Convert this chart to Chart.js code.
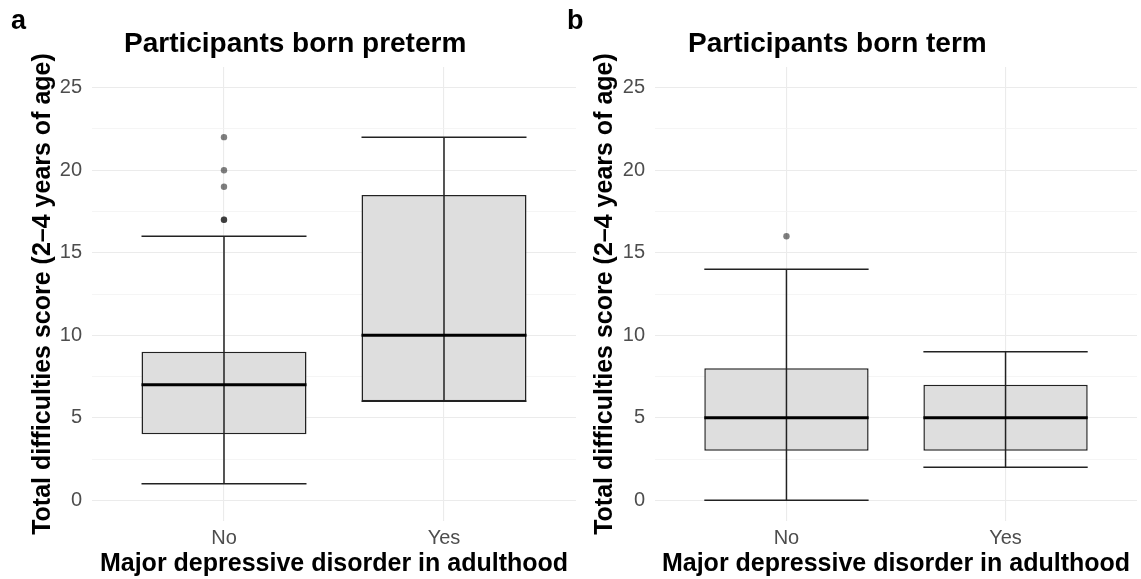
<!DOCTYPE html>
<html>
<head>
<meta charset="utf-8">
<title>SDQ total difficulties by adult MDD</title>
<script src="https://cdn.jsdelivr.net/npm/chart.js@4.4.1/dist/chart.umd.min.js"></script>
<style>
    body { margin: 0; background: #fff; font-family: 'Liberation Sans', Arial, sans-serif; }
    #wrap { position: relative; width: 1141px; height: 579px; overflow: hidden; }
    canvas { position: absolute; top: 0; }
    .tag, .ttl { position: absolute; font-weight: bold; color: #000; white-space: nowrap; }
    .tag { font-size: 27px; line-height: 27px; top: 7px; }
    .ttl { font-size: 28px; line-height: 28px; top: 29px; }
</style>
</head>
<body>
<div id="wrap">
    <canvas id="chart-a" width="580" height="579" style="left:0"></canvas>
    <canvas id="chart-b" width="561" height="579" style="left:580px"></canvas>
    <div class="tag" style="left:11px">a</div>
    <div class="ttl" style="left:124px">Participants born preterm</div>
    <div class="tag" style="left:567px">b</div>
    <div class="ttl" style="left:688px">Participants born term</div>
</div>
<script>
// categories and tick values
const groups = ['No', 'Yes'];
const yTicks = [0, 2.5, 5, 7.5, 10, 12.5, 15, 17.5, 20, 22.5, 25];

// box statistics, one value per group (No, Yes)
const pretermLow = [1, 6];
const pretermQ1 = [4, 6];
const pretermMedian = [7, 10];
const pretermQ3 = [9, 18.5];
const pretermHigh = [16, 22];
const pretermOutliersNo = [17, 17, 19, 20, 22];
const pretermOutliersYes = [];

const termLow = [0, 2];
const termQ1 = [3, 3];
const termMedian = [5, 5];
const termQ3 = [8, 7];
const termHigh = [14, 9];
const termOutliersNo = [16];
const termOutliersYes = [];

const FONT = "'Liberation Sans', Arial, sans-serif";
const yTitle = 'Total difficulties score (2–4 years of age)';
const xTitle = 'Major depressive disorder in adulthood';

// whiskers, caps and median drawn from the box bars
const boxplotLines = {
    id: 'boxplotLines',
    afterDatasetsDraw(chart) {
        const ctx = chart.ctx;
        const y = chart.scales.y;
        const ds = chart.data.datasets[0];
        const meta = chart.getDatasetMeta(0);
        ctx.save();
        meta.data.forEach((bar, i) => {
            const half = bar.width / 2;
            const lo = y.getPixelForValue(ds.stats.low[i]);
            const hi = y.getPixelForValue(ds.stats.high[i]);
            const med = y.getPixelForValue(ds.stats.median[i]);
            ctx.strokeStyle = '#222';
            ctx.lineWidth = 1.5;
            ctx.beginPath();
            ctx.moveTo(bar.x, lo); ctx.lineTo(bar.x, hi);
            ctx.moveTo(bar.x - half, lo); ctx.lineTo(bar.x + half, lo);
            ctx.moveTo(bar.x - half, hi); ctx.lineTo(bar.x + half, hi);
            ctx.stroke();
            ctx.strokeStyle = '#000';
            ctx.lineWidth = 3;
            ctx.beginPath();
            ctx.moveTo(bar.x - half, med); ctx.lineTo(bar.x + half, med);
            ctx.stroke();
        });
        ctx.restore();
    }
};

function makePanel(id, s, yAxisWidth, yTitlePad, rightPad) {
    const boxes = groups.map((g, i) => ({ x: i + 1, y: [s.q1[i], s.q3[i]] }));
    const outliers = [];
    s.outliers.forEach((list, i) => list.forEach(v => outliers.push({ x: i + 1, y: v })));

    return new Chart(document.getElementById(id), {
        type: 'bar',
        data: {
            datasets: [{
                data: boxes,
                stats: { low: s.low, median: s.median, high: s.high },
                backgroundColor: '#dedede',
                borderColor: '#222',
                borderWidth: 1.5,
                borderSkipped: false,
                barPercentage: 0.75,
                categoryPercentage: 1
            }, {
                type: 'scatter',
                data: outliers,
                pointRadius: 3.2,
                pointBorderWidth: 0,
                pointBackgroundColor: 'rgba(0,0,0,0.5)'
            }]
        },
        options: {
            responsive: false,
            animation: false,
            layout: { padding: { top: 67, right: rightPad, bottom: 0, left: 0 } },
            plugins: { legend: { display: false }, tooltip: { enabled: false } },
            scales: {
                x: {
                    type: 'linear',
                    min: 0.4,
                    max: 2.6,
                    offset: false,
                    afterBuildTicks: scale => { scale.ticks = groups.map((g, i) => ({ value: i + 1 })); },
                    afterFit: scale => { scale.height = 58; },
                    border: { display: false },
                    grid: { offset: false, color: '#ebebeb', lineWidth: 1.1, drawTicks: false },
                    ticks: {
                        padding: 5,
                        color: '#4d4d4d',
                        font: { family: FONT, size: 20 },
                        callback: v => groups[v - 1] || ''
                    },
                    title: {
                        display: true,
                        text: xTitle,
                        color: '#000',
                        padding: { top: 0, bottom: 0 },
                        font: { family: FONT, size: 25, weight: 'bold' }
                    }
                },
                y: {
                    min: -1.25,
                    max: 26.25,
                    afterBuildTicks: scale => { scale.ticks = yTicks.map(v => ({ value: v })); },
                    afterFit: scale => { scale.width = yAxisWidth; },
                    border: { display: false },
                    grid: {
                        drawTicks: false,
                        color: c => (c.tick && c.tick.value % 5 === 0) ? '#ebebeb' : '#f2f2f2',
                        lineWidth: c => (c.tick && c.tick.value % 5 === 0) ? 1.1 : 0.8
                    },
                    ticks: {
                        padding: 10,
                        color: '#4d4d4d',
                        font: { family: FONT, size: 20 },
                        callback: v => v % 5 === 0 ? v : ''
                    },
                    title: {
                        display: true,
                        text: yTitle,
                        color: '#000',
                        padding: { top: yTitlePad, bottom: 0 },
                        font: { family: FONT, size: 25, weight: 'bold' }
                    }
                }
            }
        },
        plugins: [boxplotLines]
    });
}

makePanel('chart-a', {
    low: pretermLow, q1: pretermQ1, median: pretermMedian, q3: pretermQ3, high: pretermHigh,
    outliers: [pretermOutliersNo, pretermOutliersYes]
}, 92, 28, 3);

makePanel('chart-b', {
    low: termLow, q1: termQ1, median: termMedian, q3: termQ3, high: termHigh,
    outliers: [termOutliersNo, termOutliersYes]
}, 75, 10, 3);
</script>
</body>
</html>
